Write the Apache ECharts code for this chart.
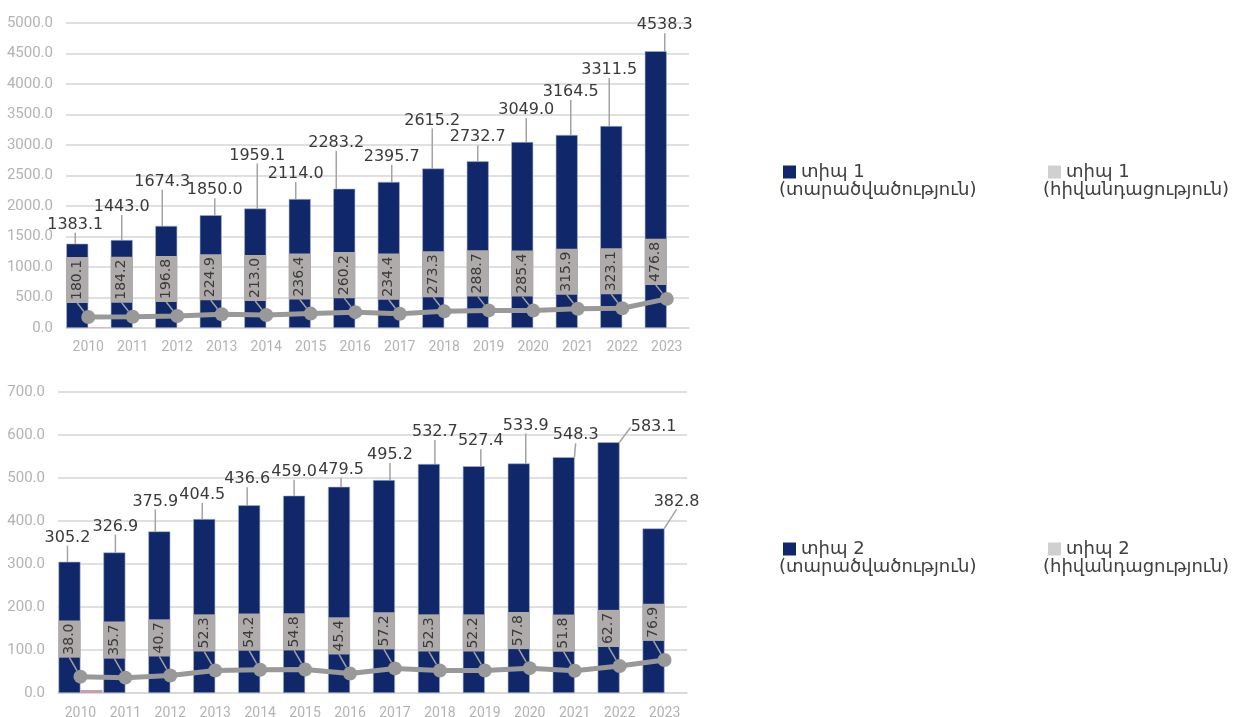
<!DOCTYPE html>
<html>
<head>
<meta charset="utf-8">
<script src="https://cdn.jsdelivr.net/npm/echarts@6/dist/echarts.min.js"></script>
<style>
html, body { margin: 0; padding: 0; background: #fff; }
#chart { width: 1241px; height: 717px; }
</style>
</head>
<body>
<div id="chart"></div>
<script>
// data
var years = ['2010', '2011', '2012', '2013', '2014', '2015', '2016', '2017', '2018', '2019', '2020', '2021', '2022', '2023'];
var type1Prevalence = [1383.1, 1443.0, 1674.3, 1850.0, 1959.1, 2114.0, 2283.2, 2395.7, 2615.2, 2732.7, 3049.0, 3164.5, 3311.5, 4538.3];
var type1Incidence = [180.1, 184.2, 196.8, 224.9, 213.0, 236.4, 260.2, 234.4, 273.3, 288.7, 285.4, 315.9, 323.1, 476.8];
var type1Extra = [8, null, null, null, null, null, null, null, null, null, null, null, null, null];
var type2Prevalence = [305.2, 326.9, 375.9, 404.5, 436.6, 459.0, 479.5, 495.2, 532.7, 527.4, 533.9, 548.3, 583.1, 382.8];
var type2Incidence = [38.0, 35.7, 40.7, 52.3, 54.2, 54.8, 45.4, 57.2, 52.3, 52.2, 57.8, 51.8, 62.7, 76.9];
var type2Extra = [7, null, null, null, null, null, null, null, null, null, null, null, null, null];
var type1Axis = { min: 0, max: 5000, interval: 500 };
var type2Axis = { min: 0, max: 700, interval: 100 };

var names = [
    'տիպ 1 (տարածվածություն)', 'տիպ 1 (հիվանդացություն)',
    'տիպ 2 (տարածվածություն)', 'տիպ 2 (հիվանդացություն)'
];

// where the value callouts sit (dx, dy from the bar top)
var topShift = [[-2, -6], [0, -20], [-4, -31], [4, -12], [2, -40], [-4, -12], [-8, -33], [3, -12], [-1, -35], [0, -11], [4, -19], [4, -30], [-2, -43], [9, -13]];
var bottomShift = [[-2, -11], [1, -13], [-4, -17], [-2, -11], [-2, -13], [0, -11], [2, -4], [6, -12], [6, -19], [7, -12], [7, -25], [12, -9], [45, -2], [23, -14]];

var navy = '#10286a';
var guide = { show: true, lineStyle: { color: '#a3a3a3', width: 1.5 } };
function fmt(p) { return p.value.toFixed(1); }

function barSeries(name, data, idx, shift) {
    return {
        name: name, type: 'bar', data: data,
        xAxisIndex: idx, yAxisIndex: idx,
        barWidth: 22, barGap: '0%',
        itemStyle: { color: navy, borderColor: '#aab3cc', borderWidth: 0.6 },
        label: {
            show: true, position: 'top', distance: 5, formatter: fmt,
            fontFamily: 'DejaVu Sans', fontSize: 16, color: '#3a3a3a'
        },
        labelLine: guide,
        labelLayout: function (p) {
            var s = shift[p.dataIndex];
            return { dx: s[0], dy: s[1] };
        },
        z: 2
    };
}

function extraSeries(data, idx) {
    return {
        name: 'extra' + idx, type: 'bar', data: data,
        xAxisIndex: idx, yAxisIndex: idx,
        barWidth: 22, barGap: '0%',
        itemStyle: { color: '#c99db4' },
        z: 1
    };
}

// the label is turned 90deg, so its own dx/dy act sideways/up on screen
function lineSeries(name, data, idx, lift) {
    return {
        name: name, type: 'line', data: data,
        xAxisIndex: idx, yAxisIndex: idx,
        symbol: 'circle', symbolSize: 14,
        lineStyle: { color: '#999', width: 5 },
        itemStyle: { color: '#999' },
        label: {
            show: true, position: 'top', distance: 2, rotate: 90,
            align: 'left', verticalAlign: 'middle',
            formatter: fmt, fontFamily: 'DejaVu Sans', fontSize: 14, color: '#3a3a3a',
            backgroundColor: '#afabab', padding: [3, 3], lineHeight: 16
        },
        labelLine: guide,
        labelLayout: { dx: lift, dy: -11 },
        z: 3
    };
}

function xAxis(idx, margin) {
    return {
        type: 'category', data: years, gridIndex: idx,
        axisLine: { lineStyle: { color: '#d6d6d6', width: 1.5 } },
        axisTick: { show: false },
        axisLabel: { color: '#b3b3b3', fontFamily: 'Roboto', fontSize: 14, margin: margin }
    };
}

function yAxis(idx, a) {
    return {
        type: 'value', gridIndex: idx, min: a.min, max: a.max, interval: a.interval,
        axisLine: { show: false }, axisTick: { show: false },
        splitLine: { lineStyle: { color: '#d6d6d6', width: 1.5 } },
        axisLabel: {
            color: '#b3b3b3', fontFamily: 'Roboto', fontSize: 15, margin: 13,
            formatter: function (v) { return v.toFixed(1); }
        }
    };
}

function legend(name, color, left, top) {
    return {
        left: left, top: top, icon: 'rect', itemWidth: 13, itemHeight: 13,
        data: [{ name: name, itemStyle: { color: color, borderWidth: 0 } }],
        itemStyle: { borderWidth: 0 },
        formatter: function (n) { return n.split(' (')[0]; },
        textStyle: { fontFamily: 'DejaVu Sans', fontSize: 18, color: '#404040' },
        selectedMode: false
    };
}

function subText(text, left, top) {
    return {
        type: 'text', left: left, top: top,
        style: { text: text, font: '18px "DejaVu Sans"', fill: '#404040' }
    };
}

var chart = echarts.init(document.getElementById('chart'));
chart.setOption({
    animation: false,
    grid: [
        { left: 66, right: 552, top: 23, bottom: 389, outerBoundsMode: 'none' },
        { left: 58, right: 554, top: 392, bottom: 24, outerBoundsMode: 'none' }
    ],
    xAxis: [xAxis(0, 12), xAxis(1, 13)],
    yAxis: [yAxis(0, type1Axis), yAxis(1, type2Axis)],
    legend: [
        legend(names[0], navy, 778, 158),
        legend(names[1], '#d0d0d0', 1043, 158),
        legend(names[2], navy, 778, 535),
        legend(names[3], '#d0d0d0', 1043, 535)
    ],
    graphic: [
        subText('(տարածվածություն)', 779, 181),
        subText('(հիվանդացություն)', 1043, 181),
        subText('(տարածվածություն)', 779, 558),
        subText('(հիվանդացություն)', 1043, 558)
    ],
    series: [
        barSeries(names[0], type1Prevalence, 0, topShift),
        extraSeries(type1Extra, 0),
        lineSeries(names[1], type1Incidence, 0, 5),
        barSeries(names[2], type2Prevalence, 1, bottomShift),
        extraSeries(type2Extra, 1),
        lineSeries(names[3], type2Incidence, 1, 10)
    ]
});
</script>
</body>
</html>
